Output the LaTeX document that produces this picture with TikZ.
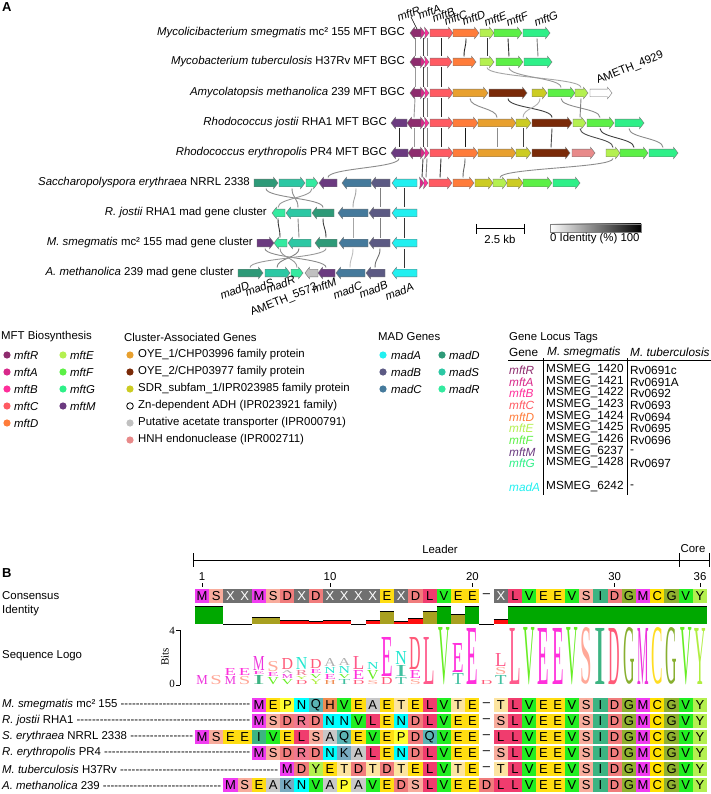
\documentclass[tikz,border=0pt]{standalone}
\usepackage{fontspec}
\setmainfont{Liberation Sans}
\newfontfamily\logofont{Liberation Serif}
\usepackage{graphicx}
\definecolor{cR}{HTML}{8E2C6E}
\definecolor{cA}{HTML}{D8288A}
\definecolor{cB}{HTML}{FF2E9A}
\definecolor{cC}{HTML}{FF5A62}
\definecolor{cD}{HTML}{FF7C3A}
\definecolor{cE}{HTML}{B4F050}
\definecolor{cF}{HTML}{5CF046}
\definecolor{cG}{HTML}{2EF088}
\definecolor{cM}{HTML}{6B3A80}
\definecolor{oyeA}{HTML}{E8A02E}
\definecolor{oyeB}{HTML}{7A2A08}
\definecolor{sdr}{HTML}{CCCC22}
\definecolor{acet}{HTML}{C0C0C0}
\definecolor{hnh}{HTML}{E88A8A}
\definecolor{mA}{HTML}{22F0F0}
\definecolor{mB}{HTML}{5C5A84}
\definecolor{mC}{HTML}{457A9C}
\definecolor{mD}{HTML}{2E9A78}
\definecolor{mS}{HTML}{2CC8A4}
\definecolor{mR}{HTML}{34EAA0}
\definecolor{aaM}{HTML}{F03CF0}
\definecolor{aaS}{HTML}{F8AC9C}
\definecolor{aaE}{HTML}{FFDD11}
\definecolor{aaD}{HTML}{F07C7C}
\definecolor{aaL}{HTML}{F03C6E}
\definecolor{aaV}{HTML}{22EE22}
\definecolor{aaI}{HTML}{3CB482}
\definecolor{aaG}{HTML}{90B030}
\definecolor{aaC}{HTML}{FFE000}
\definecolor{aaY}{HTML}{B4F050}
\definecolor{aaN}{HTML}{00FFFF}
\definecolor{aaQ}{HTML}{5AB4B4}
\definecolor{aaH}{HTML}{F08C50}
\definecolor{aaA}{HTML}{C8C8C8}
\definecolor{aaP}{HTML}{FFFF30}
\definecolor{aaR}{HTML}{F07890}
\definecolor{aaK}{HTML}{78AAC0}
\definecolor{aaT}{HTML}{FCE4A0}
\definecolor{aaX}{HTML}{707070}
\definecolor{aaZ}{HTML}{FFFFFF}
\definecolor{lgE}{HTML}{FF30DC}
\definecolor{lgL}{HTML}{FF5A8C}
\definecolor{lgV}{HTML}{66EE22}
\definecolor{lgS}{HTML}{FFA898}
\definecolor{lgI}{HTML}{3CB482}
\definecolor{lgD}{HTML}{FF5A78}
\definecolor{lgG}{HTML}{88B030}
\definecolor{lgM}{HTML}{EE33DD}
\definecolor{lgC}{HTML}{FFDD22}
\definecolor{lgY}{HTML}{B0EE40}
\definecolor{lgN}{HTML}{22E8D0}
\definecolor{lgA}{HTML}{B0B0B0}
\definecolor{lgT}{HTML}{40C0A0}
\definecolor{lgR}{HTML}{F07890}
\definecolor{lgP}{HTML}{FFDD22}
\definecolor{lgH}{HTML}{F08C50}
\definecolor{idG}{HTML}{00A800}
\definecolor{idO}{HTML}{A8A020}
\definecolor{idR}{HTML}{FF1010}

\newcommand{\geneR}[4]{\filldraw[gn,fill=#4] (#1,#3-3.8) -- ({#2-4.5},#3-3.8) -- ({#2-4.5},#3-5.8) -- (#2,#3) -- ({#2-4.5},#3+5.8) -- ({#2-4.5},#3+3.8) -- (#1,#3+3.8) -- cycle;}
\newcommand{\geneL}[4]{\filldraw[gn,fill=#4] (#2,#3-3.8) -- ({#1+4.5},#3-3.8) -- ({#1+4.5},#3-5.8) -- (#1,#3) -- ({#1+4.5},#3+5.8) -- ({#1+4.5},#3+3.8) -- (#2,#3+3.8) -- cycle;}
\newcommand{\glink}[5]{\draw[black!#5, line width=0.9pt] (#1,#2+5.5) .. controls (#1,{(#2+#4)/2}) and (#3,{(#2+#4)/2}) .. (#3,#4-5.5);}
\newcommand{\aacell}[3]{\edef\aacol{aa#3}%
  \fill[fill=\aacol] ({202+(#1-1)*14.23-7.12},#2-7) rectangle ({202+(#1-1)*14.23+7.12},#2+7);
  \node[inner sep=0, font=\fontsize{13}{13}\selectfont] at ({202+(#1-1)*14.23},#2) {\if#3X\color{white}\fi\if#3Z\textendash\else#3\fi};}
\newcommand{\aarow}[3]{\foreach \a [count=\i from #2] in {#3} {\aacell{\i}{#1}{\a}}}
\newcommand{\idb}[3]{\fill[#3] ({202+(#1-1)*14.23-7.12},624) rectangle ({202+(#1-1)*14.23+7.12},624-#2);
  \draw[black, line width=0.9pt] ({202+(#1-1)*14.23-7.12},624-#2) -- ({202+(#1-1)*14.23+7.12},624-#2);}
\newcommand{\lgo}[5]{\pgfmathsetmacro\lgh{#4-1}%
  \node[inner sep=0, anchor=south, text=#5] at ({202+(#1-1)*14.23},#3-0.5) {\resizebox{11.5pt}{\lgh pt}{\logofont #2}};}
\newcommand{\lgdot}[2]{\fill[#2] (#1) circle (3.6);}

\begin{document}
\begin{tikzpicture}[x=1pt,y=-1pt, font=\fontsize{11.4}{13}\selectfont,
  gn/.style={draw=black!55, line width=0.4pt},
  rlab/.style={anchor=east, inner sep=0},
  glab/.style={anchor=base west, inner sep=0, rotate=22, font=\fontsize{11.3}{12}\selectfont\itshape},
  leg/.style={anchor=west, inner sep=0},
  tab/.style={anchor=west, inner sep=0, font=\fontsize{11.8}{11.8}\selectfont}]
\useasboundingbox (0,0) rectangle (711,794);
\fill[white] (0,0) rectangle (711,794);

% ---------- Panel A ----------
\node[anchor=north west, inner sep=0, font=\fontsize{13}{13}\selectfont\bfseries] (pA) at (2,2) {A};

\node[rlab] (n1) at (405,33) {\textit{Mycolicibacterium smegmatis} mc² 155 MFT BGC};
\node[rlab] (n2) at (405,62) {\textit{Mycobacterium tuberculosis} H37Rv MFT BGC};
\node[rlab] (n3) at (405,93) {\textit{Amycolatopsis methanolica} 239 MFT BGC};
\node[rlab] (n4) at (387,123) {\textit{Rhodococcus jostii} RHA1 MFT BGC};
\node[rlab] (n5) at (387,153) {\textit{Rhodococcus erythropolis} PR4 MFT BGC};
\node[rlab] (n6) at (250,183) {\textit{Saccharopolyspora erythraea} NRRL 2338};
\node[rlab] (n7) at (267,213) {\textit{R. jostii} RHA1 mad gene cluster};
\node[rlab] (n8) at (253,243) {\textit{M. smegmatis} mc² 155 mad gene cluster};
\node[rlab] (n9) at (234,273) {\textit{A. methanolica} 239 mad gene cluster};

% links
\glink{415}{33}{415}{62}{45}\glink{423}{33}{423}{62}{75}\glink{427}{33}{427}{62}{50}
\glink{441}{33}{441}{62}{85}\glink{466}{33}{464}{62}{85}\glink{487}{33}{487}{62}{80}
\glink{508}{33}{509}{62}{80}\glink{537}{33}{538}{62}{50}
\glink{415}{62}{415}{93}{40}\glink{423}{62}{423}{93}{75}\glink{427}{62}{427}{93}{50}
\glink{441}{62}{441}{93}{85}\glink{487}{62}{581}{93}{35}\glink{509}{62}{561}{93}{40}
\glink{415}{93}{414}{123}{40}\glink{423}{93}{423}{123}{75}\glink{427}{93}{427}{123}{50}
\glink{441}{93}{441}{123}{85}\glink{470}{93}{497}{123}{45}\glink{508}{93}{552}{123}{75}
\glink{540}{93}{523}{123}{30}\glink{561}{93}{600}{123}{45}\glink{581}{93}{580}{123}{50}
\glink{399}{123}{399}{153}{85}\glink{414}{123}{414}{153}{40}\glink{423}{123}{423}{153}{75}
\glink{427}{123}{427}{153}{50}\glink{441}{123}{441}{153}{85}\glink{465}{123}{465}{153}{90}
\glink{497}{123}{497}{153}{45}\glink{523}{123}{523}{153}{75}\glink{552}{123}{551}{153}{70}
\glink{580}{123}{613}{153}{70}\glink{600}{123}{634}{153}{75}\glink{629}{123}{663}{153}{45}
\glink{399}{153}{328}{183}{45}\glink{423}{153}{422}{183}{75}\glink{427}{153}{426}{183}{50}
\glink{441}{153}{440}{183}{80}\glink{465}{153}{463}{183}{60}\glink{613}{153}{500}{183}{45}
\glink{266}{183}{323}{213}{45}\glink{292}{183}{298}{213}{45}\glink{312}{183}{278}{213}{40}
\glink{356}{183}{353}{213}{35}\glink{380}{183}{380}{213}{50}\glink{404}{183}{404}{213}{80}
\glink{278}{213}{280}{243}{80}\glink{298}{213}{299}{243}{45}\glink{323}{213}{326}{243}{75}
\glink{353}{213}{353}{243}{35}\glink{380}{213}{380}{243}{50}\glink{404}{213}{404}{243}{80}
\glink{265}{243}{326}{273}{45}\glink{280}{243}{297}{273}{40}\glink{299}{243}{277}{273}{50}
\glink{326}{243}{250}{273}{40}\glink{353}{243}{350}{273}{25}\glink{380}{243}{375}{273}{55}
\glink{404}{243}{404}{273}{80}

% row 1
\geneL{410}{421}{33}{cR}\geneR{421}{425}{33}{cA}\geneR{425}{429}{33}{cB}
\geneR{430}{453}{33}{cC}\geneR{453}{479}{33}{cD}\geneR{480}{494}{33}{cE}
\geneR{494}{522}{33}{cF}\geneR{523}{550}{33}{cG}
% row 2
\geneL{410}{421}{62}{cR}\geneR{421}{425}{62}{cA}\geneR{425}{429}{62}{cB}
\geneR{430}{452}{62}{cC}\geneR{453}{476}{62}{cD}\geneR{480}{494}{62}{cE}
\geneR{496}{523}{62}{cF}\geneR{524}{552}{62}{cG}
% row 3
\geneL{410}{421}{93}{cR}\geneR{421}{425}{93}{cA}\geneR{425}{429}{93}{cB}
\geneR{430}{453}{93}{cC}\geneR{453}{488}{93}{oyeA}\geneR{489}{527}{93}{oyeB}
\geneR{532}{547}{93}{sdr}\geneR{548}{575}{93}{cF}\geneR{575}{588}{93}{cE}
\geneR{590}{612}{93}{white}
% row 4
\geneL{391}{407}{123}{cM}\geneL{407}{421}{123}{cR}\geneR{421}{425}{123}{cA}\geneR{425}{429}{123}{cB}
\geneR{430}{453}{123}{cC}\geneR{453}{478}{123}{cD}\geneR{478}{516}{123}{oyeA}
\geneR{516}{531}{123}{sdr}\geneR{532}{572}{123}{oyeB}\geneR{573}{586}{123}{cE}
\geneR{587}{614}{123}{cF}\geneR{615}{644}{123}{cG}
% row 5
\geneL{391}{408}{153}{cM}\geneL{408}{421}{153}{cR}\geneR{421}{425}{153}{cA}\geneR{425}{429}{153}{cB}
\geneR{430}{453}{153}{cC}\geneR{453}{478}{153}{cD}\geneR{478}{516}{153}{oyeA}
\geneR{516}{531}{153}{sdr}\geneR{532}{570}{153}{oyeB}\geneR{572}{595}{153}{hnh}
\geneR{606}{620}{153}{cE}\geneR{620}{648}{153}{cF}\geneR{649}{678}{153}{cG}
% row 6
\geneR{254}{278}{183}{mD}\geneR{279}{305}{183}{mS}\geneR{306}{318}{183}{mR}
\geneL{319}{337}{183}{cM}\geneL{342}{371}{183}{mC}\geneL{371}{390}{183}{mB}
\geneL{392}{417}{183}{mA}\geneR{420}{424}{183}{cA}\geneR{424}{428}{183}{cB}
\geneR{429}{452}{183}{cC}\geneR{453}{474}{183}{cD}\geneR{475}{493}{183}{sdr}
\geneR{493}{507}{183}{cE}\geneR{507}{523}{183}{sdr}\geneR{523}{552}{183}{cF}
\geneR{553}{580}{183}{cG}
% row 7
\geneL{272}{285}{213}{mR}\geneL{286}{311}{213}{mS}\geneL{312}{334}{213}{mD}
\geneL{338}{368}{213}{mC}\geneL{369}{390}{213}{mB}\geneL{392}{417}{213}{mA}
% row 8
\geneR{257}{274}{243}{cM}\geneL{274}{287}{243}{mR}\geneL{288}{311}{243}{mS}
\geneL{315}{337}{243}{mD}\geneL{339}{368}{243}{mC}\geneL{369}{390}{243}{mB}
\geneL{392}{417}{243}{mA}
% row 9
\geneR{238}{263}{273}{mD}\geneR{265}{290}{273}{mS}\geneR{291}{303}{273}{mR}
\geneL{305}{318}{273}{acet}\geneL{318}{335}{273}{cM}\geneL{336}{365}{273}{mC}
\geneL{366}{385}{273}{mB}\geneL{392}{417}{273}{mA}

% gene labels
\draw[black, line width=0.6pt] (411,17) -- (417,29);
\node[glab] (lR) at (399,22) {mftR};
\node[glab] (lA) at (420,20) {mftA};
\node[glab] (lB) at (434,23) {mftB};
\node[glab] (lC) at (446,26) {mftC};
\node[glab] (lD) at (464,26) {mftD};
\node[glab] (lE) at (486,27) {mftE};
\node[glab] (lF) at (508,27) {mftF};
\node[glab] (lG) at (536,27) {mftG};
\node[glab, font=\fontsize{11.3}{12}\selectfont] (l4929) at (598,84) {AMETH\_4929};
\node[glab] (bD) at (222,300) {madD};
\node[glab] (bS) at (247,297) {madS};
\node[glab] (bR) at (268,294) {madR};
\node[glab, font=\fontsize{11.3}{12}\selectfont] (b5573) at (252,316) {AMETH\_5573};
\node[glab] (bM) at (314,294) {mftM};
\node[glab] (bC) at (335,300) {madC};
\node[glab] (bB) at (361,299) {madB};
\node[glab] (bA) at (387,301) {madA};

% scale bar and identity key
\draw[black, line width=1pt] (476,229) -- (524,229);
\draw[black, line width=1pt] (476,224) -- (476,234);
\draw[black, line width=1pt] (524,224) -- (524,234);
\node[inner sep=0] (kb) at (500,239) {2.5 kb};
\shade[left color=white, right color=black] (550,224) rectangle (641,232);
\draw[black!50, line width=0.4pt] (550,224) rectangle (641,232);
\node[anchor=west, inner sep=0] (idk) at (550,239) {0 Identity (\%) 100};

% ---------- Legend ----------
\node[leg] (h1) at (1,337) {MFT Biosynthesis};
\lgdot{7,355}{cR}\node[leg] at (14,355) {\textit{mftR}};
\lgdot{7,372}{cA}\node[leg] at (14,372) {\textit{mftA}};
\lgdot{7,389}{cB}\node[leg] at (14,389) {\textit{mftB}};
\lgdot{7,406}{cC}\node[leg] at (14,406) {\textit{mftC}};
\lgdot{7,423}{cD}\node[leg] at (14,423) {\textit{mftD}};
\lgdot{63,355}{cE}\node[leg] at (70,355) {\textit{mftE}};
\lgdot{63,372}{cF}\node[leg] at (70,372) {\textit{mftF}};
\lgdot{63,389}{cG}\node[leg] at (70,389) {\textit{mftG}};
\lgdot{63,406}{cM}\node[leg] at (70,406) {\textit{mftM}};

\node[leg] (h2) at (124,337) {Cluster-Associated Genes};
\lgdot{130,355}{oyeA}\node[leg] at (138,355) {OYE\_1/CHP03996 family protein};
\lgdot{130,372}{oyeB}\node[leg] at (138,372) {OYE\_2/CHP03977 family protein};
\lgdot{130,389}{sdr}\node[leg] at (138,389) {SDR\_subfam\_1/IPR023985 family protein};
\draw[black, line width=0.8pt, fill=white] (130,406) circle (3.3);\node[leg] at (138,406) {Zn-dependent ADH (IPR023921 family)};
\lgdot{130,423}{acet}\node[leg] at (138,423) {Putative acetate transporter (IPR000791)};
\lgdot{130,440}{hnh}\node[leg] at (138,440) {HNH endonuclease (IPR002711)};

\node[leg] (h3) at (378,337) {MAD Genes};
\lgdot{383,355}{mA}\node[leg] at (391,355) {\textit{madA}};
\lgdot{383,372}{mB}\node[leg] at (391,372) {\textit{madB}};
\lgdot{383,389}{mC}\node[leg] at (391,389) {\textit{madC}};
\lgdot{442,355}{mD}\node[leg] at (449,355) {\textit{madD}};
\lgdot{442,372}{mS}\node[leg] at (449,372) {\textit{madS}};
\lgdot{442,389}{mR}\node[leg] at (449,389) {\textit{madR}};

% locus table
\node[leg] (h4) at (509,338) {Gene Locus Tags};
\node[tab] at (509,352) {Gene};
\node[tab] at (547,352) {\textit{M. smegmatis}};
\node[tab] at (630,352) {\textit{M. tuberculosis}};
\draw[black, line width=1pt] (508,360) -- (711,360);
\draw[black, line width=1pt] (543,358) -- (543,495);
\draw[black, line width=1pt] (627,358) -- (627,495);
\foreach \g/\c/\m/\r/\yy in {mftR/cR/1420/Rv0691c/370, mftA/cA/1421/Rv0691A/382, mftB/cB/1422/Rv0692/393, mftC/cC/1423/Rv0693/405, mftD/cD/1424/Rv0694/417, mftE/cE/1425/Rv0695/428, mftF/cF/1426/Rv0696/440, mftM/cM/6237/-/452, mftG/cG/1428/Rv0697/463, madA/mA/6242/-/487}{
  \node[tab, text=\c] at (509,\yy) {\textit{\g}};
  \node[tab] at (546,\yy) {MSMEG\_\m};
  \node[tab] at (630,\yy) {\r};
}

% ---------- Panel B ----------
\node[anchor=north west, inner sep=0, font=\fontsize{13}{13}\selectfont\bfseries] (pB) at (2,568) {B};
\node[inner sep=0] (lead) at (440,549) {Leader};
\node[inner sep=0] (core) at (693,549) {Core};
\draw[black, line width=1pt] (193,560) -- (709,560);
\draw[black, line width=1pt] (193,553) -- (193,567);
\draw[black, line width=1pt] (679,553) -- (679,567);
\draw[black, line width=1pt] (709,553) -- (709,567);
\foreach \n in {1,10,20,30,36}{
  \node[inner sep=0] at ({202+(\n-1)*14.23},577) {\n};
  \draw[black, line width=0.6pt] ({202+(\n-1)*14.23},583) -- ({202+(\n-1)*14.23},587);
}
\node[leg] (tc) at (2,596) {Consensus};
\node[leg] (ti) at (2,611) {Identity};
\node[leg] (tl) at (2,656) {Sequence Logo};

\aarow{596}{1}{M,S,X,X,M,S,D,X,D,X,X,X,X,E,X,D,L,V,E,E,Z,X,L,V,E,E,V,S,I,D,G,M,C,G,V,Y}

% identity
\idb{1}{18}{idG}\idb{2}{18}{idG}\idb{3}{0}{white}\idb{4}{0}{white}
\idb{5}{7}{idO}\idb{6}{7}{idO}\idb{7}{4}{idR}\idb{8}{4}{idR}\idb{9}{3}{idR}
\idb{10}{4}{idR}\idb{11}{4}{idR}\idb{12}{0}{white}\idb{13}{4}{idR}\idb{14}{13}{idO}
\idb{15}{3}{idR}\idb{16}{6}{idR}\idb{17}{13}{idO}\idb{18}{18}{idG}\idb{19}{10}{idO}
\idb{20}{18}{idG}\idb{21}{0}{white}\idb{22}{5}{idR}
\foreach \k in {23,...,36}{\idb{\k}{18}{idG}}

% logo axis
\draw[black, line width=0.8pt] (180,630) -- (180,685);
\draw[black, line width=0.8pt] (176,630) -- (180,630);
\draw[black, line width=0.8pt] (176,685) -- (180,685);
\node[inner sep=0, font=\fontsize{11}{11}\selectfont\logofont] (b4) at (172,631) {4};
\node[inner sep=0, font=\fontsize{11}{11}\selectfont\logofont] (b0) at (172,684) {0};
\node[inner sep=0, rotate=90, font=\fontsize{11}{11}\selectfont\logofont] (bits) at (165,657) {Bits};

% logo letters
\lgo{1}{M}{685}{10}{lgM}\lgo{2}{S}{685}{10}{lgS}
\lgo{3}{M}{685}{9}{lgM}\lgo{3}{E}{676}{8}{lgE}
\lgo{4}{S}{685}{9}{lgS}\lgo{4}{E}{676}{8}{lgE}
\lgo{5}{I}{685}{10}{lgI}\lgo{5}{E}{675}{4}{lgE}\lgo{5}{M}{671}{15}{lgM}
\lgo{6}{V}{685}{8}{lgV}\lgo{6}{E}{677}{5}{lgE}\lgo{6}{S}{672}{11}{lgS}
\lgo{7}{V}{685}{6}{lgV}\lgo{7}{M}{679}{5}{lgM}\lgo{7}{A}{674}{4}{lgA}\lgo{7}{D}{670}{12}{lgD}
\lgo{8}{D}{685}{5}{lgD}\lgo{8}{Y}{680}{4}{lgY}\lgo{8}{R}{676}{6}{lgR}\lgo{8}{N}{670}{13}{lgN}
\lgo{9}{Y}{685}{6}{lgY}\lgo{9}{V}{679}{5}{lgV}\lgo{9}{E}{674}{5}{lgE}\lgo{9}{D}{669}{10}{lgD}
\lgo{10}{H}{685}{5}{lgH}\lgo{10}{E}{680}{6}{lgE}\lgo{10}{N}{674}{7}{lgN}\lgo{10}{A}{667}{9}{lgA}
\lgo{11}{T}{685}{6}{lgT}\lgo{11}{V}{679}{5}{lgV}\lgo{11}{N}{674}{8}{lgN}\lgo{11}{A}{666}{8}{lgA}
\lgo{12}{D}{685}{5}{lgD}\lgo{12}{E}{680}{10}{lgE}\lgo{12}{L}{670}{14}{lgL}
\lgo{13}{S}{685}{5}{lgS}\lgo{13}{V}{680}{10}{lgV}\lgo{13}{N}{670}{8}{lgN}
\lgo{14}{D}{685}{8}{lgD}\lgo{14}{E}{677}{40}{lgE}
\lgo{15}{T}{685}{8}{lgT}\lgo{15}{I}{677}{12}{lgT}\lgo{15}{N}{665}{14}{lgN}
\lgo{16}{S}{685}{6}{lgS}\lgo{16}{E}{679}{9}{lgE}\lgo{16}{D}{670}{33}{lgD}
\lgo{17}{L}{685}{48}{lgL}
\lgo{18}{V}{685}{57}{lgV}
\lgo{19}{T}{685}{12}{lgT}\lgo{19}{E}{673}{30}{lgE}
\lgo{20}{E}{685}{57}{lgE}
\lgo{21}{D}{685}{5}{lgD}
\lgo{22}{T}{685}{10}{lgT}\lgo{22}{S}{675}{8}{lgS}\lgo{22}{L}{667}{14}{lgL}
\lgo{23}{L}{685}{57}{lgL}\lgo{24}{V}{685}{57}{lgV}\lgo{25}{E}{685}{57}{lgE}
\lgo{26}{E}{685}{57}{lgE}\lgo{27}{V}{685}{57}{lgV}\lgo{28}{S}{685}{57}{lgS}
\lgo{29}{I}{685}{57}{lgI}\lgo{30}{D}{685}{57}{lgD}\lgo{31}{G}{685}{57}{lgG}
\lgo{32}{M}{685}{57}{lgM}\lgo{33}{C}{685}{57}{lgC}\lgo{34}{G}{685}{57}{lgG}
\lgo{35}{V}{685}{57}{lgV}\lgo{36}{Y}{685}{57}{lgY}

% alignment labels
\node[leg] (s1) at (2,705) {\makebox[248pt][l]{\textit{M. smegmatis} mc² 155 \xleaders\hbox{-}\hfill}};
\node[leg] (s2) at (2,721) {\makebox[248pt][l]{\textit{R. jostii} RHA1 \xleaders\hbox{-}\hfill}};
\node[leg] (s3) at (2,737) {\makebox[191pt][l]{\textit{S. erythraea} NRRL 2338 \xleaders\hbox{-}\hfill}};
\node[leg] (s4) at (2,753) {\makebox[248pt][l]{\textit{R. erythropolis} PR4 \xleaders\hbox{-}\hfill}};
\node[leg] (s5) at (2,769) {\makebox[276pt][l]{\textit{M. tuberculosis} H37Rv \xleaders\hbox{-}\hfill}};
\node[leg] (s6) at (2,785) {\makebox[219pt][l]{\textit{A. methanolica} 239 \xleaders\hbox{-}\hfill}};

\aarow{705}{5}{M,E,P,N,Q,H,V,E,A,E,T,E,L,V,T,E,Z,T,L,V,E,E,V,S,I,D,G,M,C,G,V,Y}
\aarow{721}{5}{M,S,D,R,D,N,N,V,L,E,N,D,L,V,E,E,Z,S,L,V,E,E,V,S,I,D,G,M,C,G,V,Y}
\aarow{737}{1}{M,S,E,E,I,V,E,L,S,A,Q,E,V,E,P,D,Q,V,E,E,Z,L,L,V,E,E,V,S,I,D,G,M,C,G,V,Y}
\aarow{753}{5}{M,S,D,R,D,N,K,A,L,E,N,D,L,V,E,E,Z,S,L,V,E,E,V,S,I,D,G,M,C,G,V,Y}
\aarow{769}{7}{M,D,Y,E,T,D,T,D,T,E,L,V,T,E,Z,T,L,V,E,E,V,S,I,D,G,M,C,G,V,Y}
\aarow{785}{3}{M,S,E,A,K,N,V,A,P,A,V,E,D,S,L,V,E,E,D,L,L,V,E,E,V,S,I,D,G,M,C,G,V,Y}
\end{tikzpicture}
\end{document}
